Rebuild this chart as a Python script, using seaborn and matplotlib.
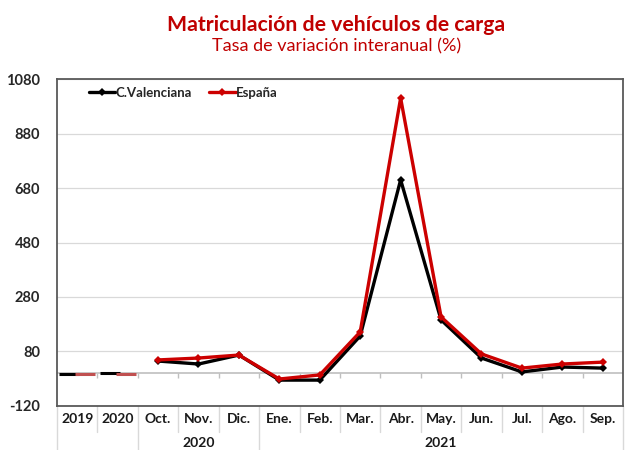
import numpy as np
import pandas as pd
import matplotlib
matplotlib.use("Agg")
import matplotlib.pyplot as plt
import matplotlib.transforms as mtransforms
import seaborn as sns

# categories on the x axis
categories = ["2019", "2020", "Oct.", "Nov.", "Dic.", "Ene.", "Feb.", "Mar.",
              "Abr.", "May.", "Jun.", "Jul.", "Ago.", "Sep."]
groups = [("2020", 2, 4), ("2021", 5, 13)]

# annual values (drawn as short dashes)
annual_cv = [-4, 1]
annual_es = [-4, -2]

# monthly values (Oct 2020 - Sep 2021)
monthly_cv = [45, 34, 67, -25, -25, 137, 710, 196, 56, 5, 23, 19]
monthly_es = [49, 56, 67, -21, -6, 152, 1010, 207, 71, 19, 34, 41]

yticks = [-120, 80, 280, 480, 680, 880, 1080]

BLACK = "#000000"
RED = "#CC0000"
TITLE_RED = "#C00000"

sns.set_style("white")
plt.rcParams["font.family"] = ["Lato", "DejaVu Sans"]

n_ann = len(annual_cv)
df = pd.DataFrame({
    "x": list(range(n_ann, len(categories))) * 2,
    "value": monthly_cv + monthly_es,
    "serie": ["C.Valenciana"] * len(monthly_cv) + ["España"] * len(monthly_es),
})

fig = plt.figure(figsize=(6.27, 4.5), dpi=100)
ax = fig.add_axes([0.0909, 0.0978, 0.9027, 0.7266])

sns.lineplot(data=df, x="x", y="value", hue="serie",
             palette={"C.Valenciana": BLACK, "España": RED},
             marker="D", markersize=4, linewidth=2.4, markeredgewidth=0,
             ax=ax, zorder=3)

# annual dashes, side by side in their category
for i in range(n_ann):
    ax.plot([i - 0.2], [annual_cv[i]], marker="_", markersize=15,
            markeredgewidth=2.2, color=BLACK, zorder=3)
    ax.plot([i + 0.2], [annual_es[i]], marker="_", markersize=15,
            markeredgewidth=2.2, color="#C05050", zorder=3)

ax.set_xlim(-0.5, len(categories) - 0.5)
ax.set_ylim(-120, 1080)
ax.set_yticks(yticks)
ax.set_yticklabels([str(t) for t in yticks], fontsize=10.5, fontweight="bold")
ax.tick_params(axis="y", length=0, pad=12)
ax.set_xticks([])
ax.set_xlabel("")
ax.set_ylabel("")

ax.grid(axis="y", color="#D9D9D9", linewidth=0.9)
ax.set_axisbelow(True)
for sp in ax.spines.values():
    sp.set_color("#595959")
    sp.set_linewidth(1.3)

# zero line with small category ticks
ax.axhline(0, color="#BFBFBF", linewidth=1.2, zorder=1)
bounds = np.arange(0.5, len(categories) - 1, 1.0)
ax.vlines(bounds, -16, 0, color="#BFBFBF", linewidth=1.0, zorder=1)

# two-level category axis below the plot
trans = mtransforms.blended_transform_factory(ax.transData, ax.transAxes)
group_edges = {g[1] - 0.5 for g in groups} | {-0.5, len(categories) - 0.5}
for b in np.arange(-0.5, len(categories), 1.0):
    low = -0.135 if b in group_edges else -0.08
    ax.plot([b, b], [0, low], transform=trans, color="#D9D9D9",
            linewidth=1.0, clip_on=False)
for i, c in enumerate(categories):
    ax.text(i, -0.04, c, transform=trans, ha="center", va="center",
            fontsize=10, fontweight="bold", color="#1a1a1a")
for name, a, b in groups:
    ax.text((a + b) / 2, -0.112, name, transform=trans, ha="center",
            va="center", fontsize=10, fontweight="bold", color="#1a1a1a")

leg = ax.legend(loc="upper left", bbox_to_anchor=(0.035, 1.012), ncol=2,
                frameon=False, handlelength=2.0, handletextpad=0.05,
                columnspacing=1.3, prop={"weight": "bold", "size": 9.5})

fig.text(0.536, 0.945, "Matriculación de vehículos de carga", ha="center",
         va="center", fontsize=15.3, fontweight="bold", color=TITLE_RED)
fig.text(0.536, 0.897, "Tasa de variación interanual (%)", ha="center",
         va="center", fontsize=13, color=TITLE_RED)

fig.savefig("out.png", dpi=100)
